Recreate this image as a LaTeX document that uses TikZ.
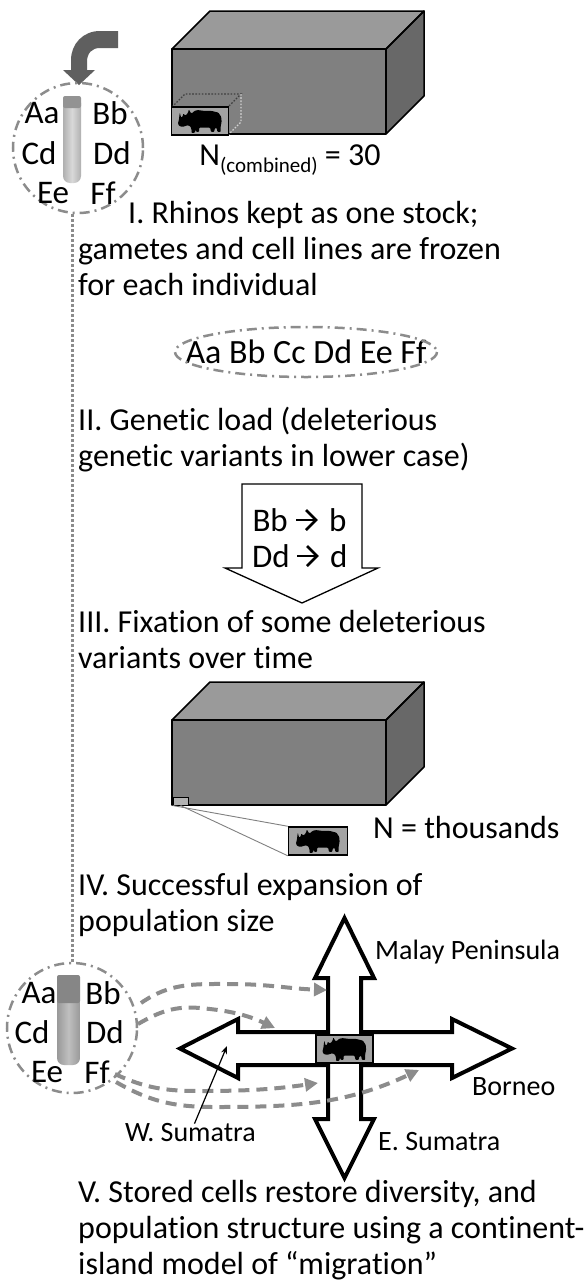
\documentclass[tikz,border=0pt]{standalone}
\usepackage{fontspec}
\setmainfont{Carlito}[Ligatures={NoCommon}]
\usetikzlibrary{arrows.meta,shapes.geometric}

\definecolor{boxfront}{HTML}{808080}
\definecolor{boxtop}{HTML}{9A9A9A}
\definecolor{boxside}{HTML}{686868}
\definecolor{linegray}{HTML}{8C8C8C}
\definecolor{bentgray}{HTML}{5F5F5F}
\definecolor{rhinobg}{HTML}{A3A3A3}

\tikzset{
  bodytext/.style={anchor=base west, inner sep=0pt, font=\fontsize{32}{36}\selectfont},
  allele/.style={inner sep=0pt, font=\fontsize{33}{33}\selectfont},
  placename/.style={anchor=west, inner sep=0pt, font=\fontsize{28}{28}\selectfont},
  ringline/.style={draw=linegray, line width=2.5pt, dash pattern=on 10pt off 5pt on 2pt off 5pt},
  flowline/.style={draw=linegray, line width=4pt, dash pattern=on 11pt off 7pt,
    -{Triangle[length=13pt,width=13pt]}},
  fatarrow/.style={draw=black, line width=2.8pt, line join=miter},
  rhinobox/.style={draw=black, line width=1.5pt, fill=rhinobg, minimum width=#1,
    minimum height=28pt, inner sep=0pt},
  solidbox/.style={draw=black, line width=1.5pt, line join=round},
  rhinoshape/.pic={
    \fill[black, rounded corners=0.8pt]
      (-44,-20) -- (-46,-2) -- (-48,6) -- (-45,12) -- (-38,14) -- (-32,12)
      -- (-26,10) -- (-20,14) -- (-18,24) -- (-19,28) -- (-11,28) -- (-10,20)
      -- (-8,26) -- (-2,26) -- (-2,16) -- (10,16) -- (22,16) -- (24,26)
      -- (31,26) -- (32,18) -- (36,16) -- (38,26) -- (45,26) -- (45,12)
      -- (47,2) -- (46,-10) -- (40,-20) -- (25,-24) -- (10,-24) -- (-5,-26)
      -- (-12,-24) -- (-18,-18) -- (-22,-22) -- (-24,-28) -- (-26,-20)
      -- (-30,-14) -- (-34,-14) -- (-36,-18) -- (-38,-10) -- (-41,-8) -- cycle;
  }
}

\begin{document}
\begin{tikzpicture}[x=1pt, y=-1pt]
  \useasboundingbox (0,0) rectangle (588,1282);
  \fill[white] (0,0) rectangle (588,1282);

  % ---------- bent arrow into the first vial ----------
  \fill[bentgray] (118,31) -- (100,31) .. controls (83,31) and (71,44) .. (71,60)
    -- (71,70) -- (63,70) -- (79,85) -- (95,70) -- (87,70) -- (87,62)
    .. controls (87,53) and (92,48) .. (100,48) -- (118,48) -- cycle;

  % ---------- first vial with alleles ----------
  \node[circle, ringline, minimum size=130pt, inner sep=0pt] (vialA) at (78,148) {};
  \shade[rounded corners=7pt, left color=gray!62, right color=gray!62, middle color=gray!30]
    (63,96) rectangle (81,183);
  \fill[gray!85, rounded corners=2pt] (63,96) rectangle (81,108);
  \node[allele] (aA) at (42,113) {Aa};
  \node[allele] (aB) at (110,113) {Bb};
  \node[allele] (aC) at (39,153) {Cd};
  \node[allele] (aD) at (112,153) {Dd};
  \node[allele] (aE) at (53,193) {Ee};
  \node[allele] (aF) at (103,193) {Ff};

  % ---------- first enclosure ----------
  \coordinate (f1tl) at (172,49);  \coordinate (f1br) at (386,134);
  \fill[boxtop]  (172,49) -- (210,11) -- (424,11) -- (386,49) -- cycle;
  \fill[boxside] (386,49) -- (424,11) -- (424,96) -- (386,134) -- cycle;
  \fill[boxfront] (f1tl) rectangle (f1br);
  \draw[solidbox] (172,49) -- (210,11) -- (424,11) -- (386,49) -- cycle;
  \draw[solidbox] (386,49) -- (424,11) -- (424,96) -- (386,134);
  \draw[solidbox] (f1tl) rectangle (f1br);
  % small dotted compartment
  \draw[black!75, line width=1.4pt, dash pattern=on 1.6pt off 1.6pt]
    (172,107) -- (185,94) -- (241,94) -- (228,107);
  \draw[gray!35, line width=1.4pt, dash pattern=on 1.6pt off 1.6pt]
    (241,94) -- (241,122) -- (228,135);
  \node[rhinobox=57pt] (rhA) at (200,121) {};
  \pic[xscale=0.46, yscale=0.42] at (rhA) {rhinoshape};
  \node[inner sep=0pt, font=\fontsize{32}{36}\selectfont] (ncomb) at (290,160)
    {N\raisebox{-7pt}{\fontsize{21}{21}\selectfont(combined)} = 30};

  % ---------- section I ----------
  \node[bodytext] (s1a) at (128,223) {I. Rhinos kept as one stock;};
  \node[bodytext] (s1b) at (78,259) {gametes and cell lines are frozen};
  \node[bodytext] (s1c) at (78,295) {for each individual};

  \node[inner sep=0pt, font=\fontsize{34}{34}\selectfont] (pool) at (306,352) {Aa Bb Cc Dd Ee Ff};
  \draw[ringline] (pool.center) ellipse [x radius=131, y radius=25];

  % ---------- section II ----------
  \node[bodytext] (s2a) at (78,430) {II. Genetic load (deleterious};
  \node[bodytext] (s2b) at (78,466) {genetic variants in lower case)};

  \draw[black, line width=1.3pt, fill=white, line join=miter]
    (242,484) -- (362,484) -- (362,568) -- (378,568) -- (302,603)
    -- (225,568) -- (242,568) -- cycle;
  \node[allele, anchor=east] (fixB) at (288,520) {Bb};
  \node[allele, anchor=west] (fixb) at (329,520) {b};
  \draw[fatarrow] (296,520) -- (315,520);
  \draw[fatarrow] (306,510) -- (316,520) -- (306,530);
  \node[allele, anchor=east] (fixD) at (290,556) {Dd};
  \node[allele, anchor=west] (fixd) at (330,556) {d};
  \draw[fatarrow] (297,556) -- (316,556);
  \draw[fatarrow] (307,546) -- (317,556) -- (307,566);

  % ---------- section III ----------
  \node[bodytext] (s3a) at (78,632) {III. Fixation of some deleterious};
  \node[bodytext] (s3b) at (78,668) {variants over time};

  % ---------- second enclosure ----------
  \coordinate (f2tl) at (172,720);  \coordinate (f2br) at (386,805);
  \fill[boxtop]  (172,720) -- (210,682) -- (424,682) -- (386,720) -- cycle;
  \fill[boxside] (386,720) -- (424,682) -- (424,767) -- (386,805) -- cycle;
  \fill[boxfront] (f2tl) rectangle (f2br);
  \draw[solidbox] (172,720) -- (210,682) -- (424,682) -- (386,720) -- cycle;
  \draw[solidbox] (386,720) -- (424,682) -- (424,767) -- (386,805);
  \draw[solidbox] (f2tl) rectangle (f2br);
  \node[draw=black, line width=1pt, fill=gray!60, minimum width=15pt, minimum height=8pt,
    inner sep=0pt] (tiny) at (180.5,801) {};
  \node[rhinobox=59pt] (rhB) at (318,841) {};
  \pic[xscale=0.46, yscale=0.42] at (rhB) {rhinoshape};
  \draw[gray, line width=0.9pt] (tiny.south west) -- (rhB.north west);
  \draw[gray, line width=0.9pt] (tiny.south) -- (rhB.south west);
  \node[placename, font=\fontsize{32}{36}\selectfont] (nthou) at (373,827) {N = thousands};

  % ---------- section IV ----------
  \node[bodytext] (s4a) at (78,895) {IV. Successful expansion of};
  \node[bodytext] (s4b) at (78,931) {population size};

  % ---------- second vial ----------
  \node[circle, ringline, minimum size=130pt, inner sep=0pt] (vialB) at (72,1028) {};
  \shade[rounded corners=7pt, left color=gray!80, right color=gray!80, middle color=gray!50]
    (57,975) rectangle (80,1065);
  \fill[gray!95, rounded corners=2pt] (57,975) rectangle (80,1003);
  \node[allele] (bA) at (39,993) {Aa};
  \node[allele] (bB) at (103,993) {Bb};
  \node[allele] (bC) at (32,1032) {Cd};
  \node[allele] (bD) at (105,1032) {Dd};
  \node[allele] (bE) at (47,1072) {Ee};
  \node[allele] (bF) at (97,1072) {Ff};

  % stored cells link the two vials
  \draw[linegray, line width=3pt, dash pattern=on 2.5pt off 2.5pt]
    (vialB.north |- vialA.south) -- (vialB.north);

  % ---------- four-way cross ----------
  \draw[black, line width=4pt, fill=white, line join=miter]
    (344.5,918) -- (374,978) -- (361,978) -- (361,1032) -- (452,1032) -- (452,1019)
    -- (512,1048.5) -- (452,1078) -- (452,1065) -- (361,1065) -- (361,1119)
    -- (374,1119) -- (344.5,1178) -- (315,1119) -- (328,1119) -- (328,1065)
    -- (238,1065) -- (238,1078) -- (180,1048.5) -- (238,1019) -- (238,1032)
    -- (328,1032) -- (328,978) -- (315,978) -- cycle;

  % migration routes from the stored cells
  \coordinate (m1s) at (141,1003);  \coordinate (m1e) at (327,990);
  \coordinate (m2s) at (138,1024);  \coordinate (m2e) at (275,1028);
  \coordinate (m3s) at (115,1074);  \coordinate (m3e) at (318,1083);
  \coordinate (m4s) at (116,1082);  \coordinate (m4e) at (419,1070);
  \draw[flowline] (m1s) to[out=35, in=180] (230,984) to[out=0, in=178] (m1e);
  \draw[flowline] (m2s) to[out=30, in=175] (200,1008) to[out=-5, in=155] (m2e);
  \draw[flowline] (m3s) to[out=-25, in=180] (200,1091) to[out=0, in=188] (m3e);
  \draw[flowline] (m4s) to[out=-30, in=180] (215,1107) to[out=0, in=205] (m4e);

  \node[rhinobox=57pt] (rhC) at (344.5,1049) {};
  \pic[xscale=0.46, yscale=0.42] at (rhC) {rhinoshape};

  \node[placename] (malay) at (375,952) {Malay Peninsula};
  \node[placename] (borneo) at (472,1087) {Borneo};
  \node[placename] (esum) at (378,1142) {E. Sumatra};
  \node[placename] (wsum) at (125,1133) {W. Sumatra};
  \coordinate (wsumtip) at (227,1046);
  \draw[black, line width=1.2pt, -{Stealth[length=8pt,width=6pt]}]
    ([xshift=4pt]wsum.north) -- (wsumtip);

  % ---------- section V ----------
  \node[bodytext] (s5a) at (78,1202) {V. Stored cells restore diversity, and};
  \node[bodytext] (s5b) at (78,1238) {population structure using a continent-};
  \node[bodytext] (s5c) at (78,1274) {island model of “migration”};
\end{tikzpicture}
\end{document}
